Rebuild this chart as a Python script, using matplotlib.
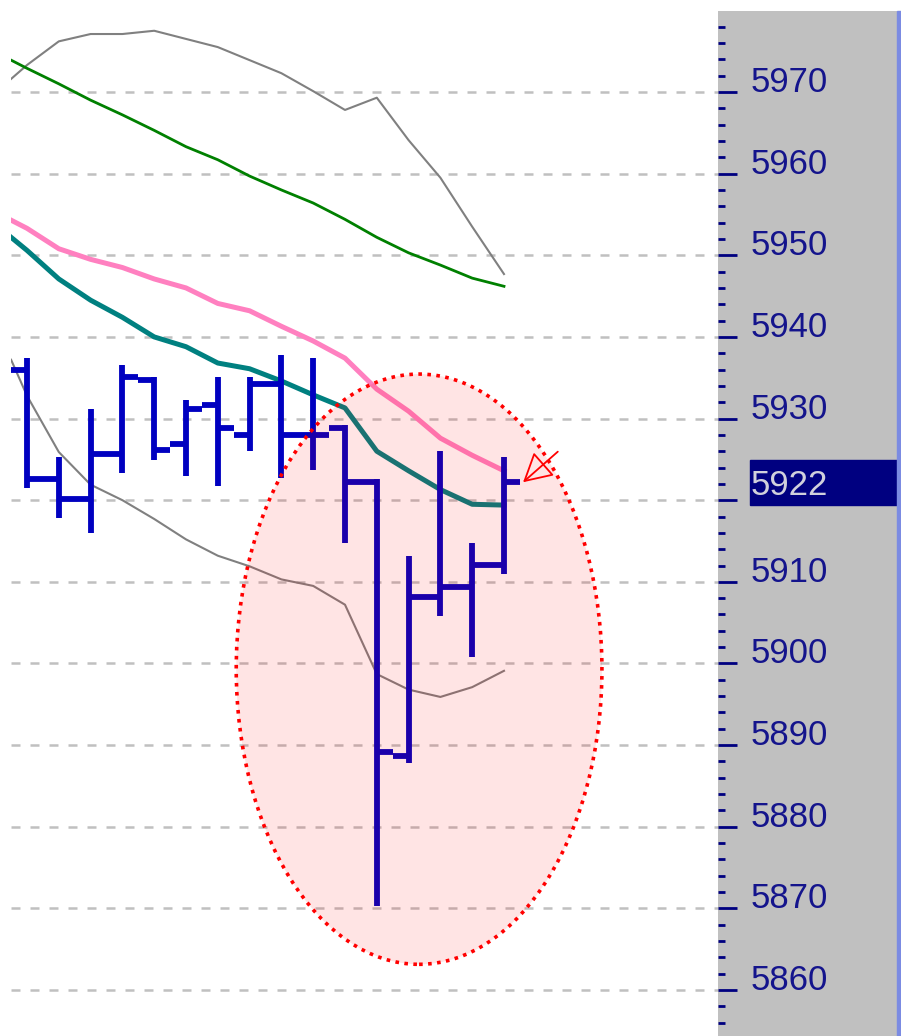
import numpy as np
import matplotlib.pyplot as plt
from matplotlib.patches import Ellipse, Rectangle
from matplotlib.transforms import blended_transform_factory

# OHLC bars
opens = [5935.9, 5922.6, 5920.2, 5925.7, 5934.7, 5926.9, 5931.6, 5928.0,
         5934.2, 5928.0, 5928.8, 5922.2, 5888.7, 5908.1, 5909.4, 5912.1]
highs = [5937.4, 5925.3, 5931.2, 5936.6, 5935.1, 5932.3, 5935.1, 5935.1,
         5937.8, 5937.4, 5929.2, 5922.6, 5913.2, 5926.0, 5914.8, 5925.3]
lows = [5921.5, 5917.8, 5916.0, 5923.3, 5924.9, 5923.0, 5921.7, 5926.0,
        5922.7, 5923.7, 5914.8, 5870.3, 5887.8, 5905.8, 5900.8, 5911.0]
closes = [5922.6, 5920.2, 5925.7, 5935.1, 5926.1, 5931.2, 5928.8, 5934.2,
          5928.0, 5928.0, 5922.2, 5889.2, 5908.1, 5909.4, 5912.1, 5922.2]

# indicator lines, one value at the left edge and one per bar
line_x = [-0.5] + list(range(16))
pink_ma = [5954.3, 5953.3, 5950.8, 5949.5, 5948.5, 5947.1, 5946.0, 5944.1, 5943.2,
           5941.3, 5939.5, 5937.4, 5933.6, 5930.9, 5927.6, 5925.5, 5923.6]
teal_ma = [5952.2, 5950.6, 5947.1, 5944.5, 5942.4, 5940.0, 5938.8, 5936.8, 5936.1,
           5934.6, 5932.9, 5931.3, 5926.0, 5923.6, 5921.3, 5919.5, 5919.4]
green_ma = [5973.9, 5972.9, 5971.0, 5969.0, 5967.2, 5965.3, 5963.3, 5961.7, 5959.7,
            5958.0, 5956.4, 5954.4, 5952.2, 5950.3, 5948.8, 5947.2, 5946.2]
upper_band = [5971.6, 5973.3, 5976.2, 5977.1, 5977.1, 5977.5, 5976.5, 5975.5, 5973.9,
              5972.3, 5970.1, 5967.8, 5969.3, 5964.1, 5959.5, 5953.5, 5947.7]
lower_band = [5937.2, 5932.8, 5925.9, 5921.9, 5920.0, 5917.7, 5915.2, 5913.2, 5911.9,
              5910.3, 5909.5, 5907.2, 5898.7, 5896.8, 5895.9, 5897.1, 5899.1]

price_labels = [5970, 5960, 5950, 5940, 5930, 5910, 5900, 5890, 5880, 5870, 5860]

# highlight ellipse (centre bar, centre price, width in bars, height in points)
ellipse_center = (12.33, 5899.3)
ellipse_size = (11.5, 72.3)

y_min, y_max = 5854.37, 5979.92
x_min, x_max = -0.503, 21.73

fig = plt.figure(figsize=(9.01, 10.36), dpi=100)
ax = fig.add_axes([11 / 901, 0, 707 / 901, 1025 / 1036])
panel = fig.add_axes([718 / 901, 0, 179 / 901, 1025 / 1036], sharey=ax)

ax.set_xlim(x_min, x_max)
ax.set_ylim(y_min, y_max)
for s in ax.spines.values():
    s.set_visible(False)
ax.set_xticks([])
ax.set_yticks(np.arange(5860, 5980, 10))
ax.grid(axis='y', color='#c0c0c0', lw=1.8, linestyle=(0, (3.6, 4)))
ax.set_axisbelow(True)

# indicator lines
ax.plot(line_x, upper_band, color='#808080', lw=1.5, zorder=2)
ax.plot(line_x, lower_band, color='#808080', lw=1.5, zorder=2)
ax.plot(line_x, green_ma, color='#008000', lw=2.0, zorder=2)
ax.plot(line_x, pink_ma, color='#ff80c0', lw=3.6, zorder=2)
ax.plot(line_x, teal_ma, color='#008080', lw=3.6, zorder=2)

# OHLC bars
bar_x = np.arange(len(opens))
bar_lw = 4.2
ax.vlines(bar_x, lows, highs, color='#0000c0', lw=bar_lw, capstyle='butt', zorder=3)
ax.hlines(opens, bar_x - 0.5, bar_x, color='#0000c0', lw=bar_lw, capstyle='butt', zorder=3)
ax.hlines(closes, bar_x, bar_x + 0.5, color='#0000c0', lw=bar_lw, capstyle='butt', zorder=3)

# translucent ellipse on top, dotted red outline
ell = Ellipse(ellipse_center, ellipse_size[0], ellipse_size[1],
              facecolor=(1, 0, 0, 0.106), edgecolor='red', lw=2.6,
              linestyle=(0, (1, 1.5)), zorder=5)
ax.add_patch(ell)

# small red arrow pointing at the last close
ax.annotate('', xy=(bar_x[-1] + 0.6, closes[-1]), xytext=(25, 22),
            textcoords='offset points',
            arrowprops=dict(arrowstyle='-|>,head_length=1.0,head_width=0.55',
                            ec='red', fc='none', lw=1.3, mutation_scale=18,
                            shrinkA=0, shrinkB=0),
            zorder=6)

# price panel on the right
panel.set_facecolor('#c0c0c0')
for s in panel.spines.values():
    s.set_visible(False)
panel.set_xlim(0, 1)
panel.set_xticks([])
panel.set_yticks(np.arange(5860, 5980, 10))
panel.set_yticks(np.arange(5856, 5980, 2), minor=True)
panel.tick_params(axis='y', which='major', direction='in', length=13.7, width=2.0,
                  color='#000080', labelleft=False)
panel.tick_params(axis='y', which='minor', direction='in', length=5, width=2.0,
                  color='#000080', labelleft=False)
# shared y axis: keep the ticks off the main plot
ax.tick_params(axis='y', which='both', left=False, labelleft=False)

for p in price_labels:
    panel.text(0.184, p, str(p), fontsize=25, family='Liberation Sans',
               color='#14148c', va='baseline', ha='left')

# last price highlight box
trans = blended_transform_factory(panel.transAxes, panel.transData)
panel.add_patch(Rectangle((0.179, closes[-1] - 2.75), 0.821, 5.5, transform=trans,
                          color='#000080', zorder=3, clip_on=False))
panel.text(0.184, closes[-1] - 1.55, str(round(closes[-1])), fontsize=25,
           family='Liberation Sans', color='#d0d0dc', va='baseline', ha='left', zorder=4)

# blue border on the far right
fig.add_artist(Rectangle((897 / 901, 0), 4 / 901, 1025 / 1036,
                         transform=fig.transFigure, color='#7b8be2'))

plt.savefig('out.png', dpi=100)
